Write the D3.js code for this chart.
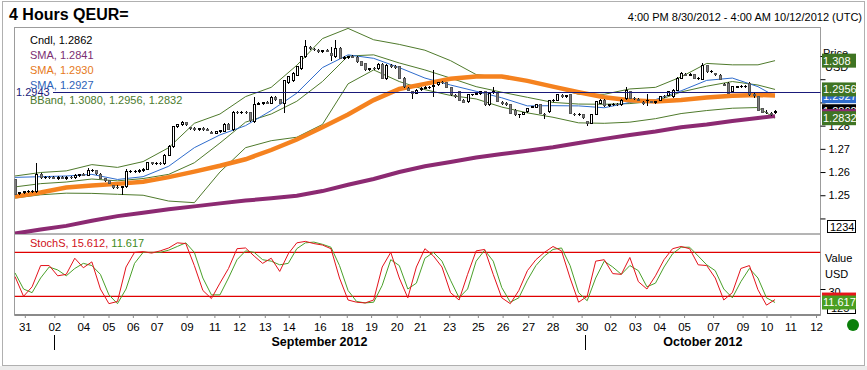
<!DOCTYPE html>
<html>
<head>
<meta charset="utf-8">
<script src="https://cdn.jsdelivr.net/npm/d3@7"></script>
<style>
  body { margin: 0; background: #fff; }
  svg { display: block; font-family: "Liberation Sans", Arial, sans-serif; }
</style>
</head>
<body>
<svg id="chart" width="867" height="370"></svg>
<script>
// 4-hour candles, 8/30 16:00 onwards (one entry per bar)
const opens = [
  1.2566,1.2508,1.2512,1.2514,1.2516,1.2515,1.2590,1.2575,1.2578,1.2576,
  1.2574,1.2576,1.2573,1.2577,1.2575,1.2586,1.2588,1.2587,1.2605,1.2607,
  1.2590,1.2572,1.2562,1.2540,1.2535,1.2533,1.2536,1.2601,1.2603,1.2604,
  1.2608,1.2612,1.2640,1.2637,1.2638,1.2635,1.2673,1.2709,1.2795,1.2803,
  1.2813,1.2790,1.2786,1.2784,1.2786,1.2783,1.2772,1.2768,1.2774,1.2776,
  1.2807,1.2782,1.2857,1.2856,1.2858,1.2855,1.2818,1.2892,1.2896,1.2898,
  1.2896,1.2922,1.2912,1.2896,1.2985,1.2995,1.3018,1.3047,1.3097,1.3136,
  1.3130,1.3124,1.3120,1.3124,1.3110,1.3097,1.3133,1.3090,1.3094,1.3097,
  1.3095,1.3075,1.3068,1.3042,1.3047,1.3045,1.3064,1.3004,1.3058,1.3054,
  1.3054,1.3004,1.2960,1.2945,1.2940,1.2955,1.2962,1.2964,1.2970,1.2978,
  1.2985,1.2985,1.2964,1.2930,1.2947,1.2910,1.2902,1.2932,1.2934,1.2938,
  1.2945,1.2889,1.2945,1.2940,1.2900,1.2896,1.2889,1.2867,1.2846,1.2850,
  1.2860,1.2880,1.2878,1.2889,1.2848,1.2860,1.2908,1.2910,1.2928,1.2925,
  1.2932,1.2848,1.2846,1.2850,1.2818,1.2810,1.2850,1.2895,1.2910,1.2887,
  1.2889,1.2890,1.2889,1.2917,1.2946,1.2917,1.2914,1.2900,1.2908,1.2902,
  1.2900,1.2910,1.2925,1.2930,1.2925,1.2953,1.3004,1.3020,1.3018,1.3020,
  1.3002,1.3000,1.3058,1.3032,1.3024,1.3018,1.2978,1.2982,1.2947,1.2966,
  1.2967,1.2968,1.2982,1.2932,1.2925,1.2874,1.2857,1.2852,1.2858
];
const highs = [
  1.2570,1.2516,1.2520,1.2522,1.2524,1.2640,1.2598,1.2584,1.2585,1.2584,
  1.2582,1.2583,1.2582,1.2585,1.2590,1.2592,1.2595,1.2618,1.2612,1.2610,
  1.2594,1.2575,1.2566,1.2546,1.2542,1.2540,1.2612,1.2608,1.2610,1.2612,
  1.2618,1.2645,1.2645,1.2644,1.2645,1.2678,1.2715,1.2800,1.2808,1.2818,
  1.2816,1.2795,1.2792,1.2790,1.2792,1.2788,1.2776,1.2778,1.2782,1.2812,
  1.2810,1.2862,1.2863,1.2862,1.2864,1.2858,1.2922,1.2900,1.2903,1.2905,
  1.2928,1.2926,1.2915,1.2998,1.3015,1.3030,1.3058,1.3100,1.3169,1.3142,
  1.3134,1.3130,1.3128,1.3130,1.3140,1.3169,1.3138,1.3098,1.3102,1.3104,
  1.3100,1.3078,1.3072,1.3050,1.3053,1.3068,1.3070,1.3066,1.3064,1.3060,
  1.3058,1.3008,1.2966,1.2950,1.2958,1.2968,1.2970,1.2972,1.3040,1.2990,
  1.2992,1.2990,1.2968,1.2935,1.2950,1.2914,1.2936,1.2938,1.2944,1.2950,
  1.2948,1.2944,1.2968,1.2944,1.2904,1.2900,1.2892,1.2870,1.2852,1.2860,
  1.2877,1.2886,1.2892,1.2892,1.2854,1.2912,1.2915,1.2935,1.2935,1.2932,
  1.2936,1.2854,1.2856,1.2852,1.2822,1.2850,1.2906,1.2914,1.2914,1.2894,
  1.2896,1.2896,1.2914,1.2967,1.2950,1.2922,1.2918,1.2905,1.2937,1.2908,
  1.2908,1.2928,1.2930,1.2950,1.2957,1.3008,1.3030,1.3026,1.3025,1.3024,
  1.3008,1.3072,1.3062,1.3038,1.3028,1.3021,1.2984,1.2986,1.2972,1.2972,
  1.2974,1.2975,1.2990,1.2946,1.2928,1.2877,1.2866,1.2858,1.2868
];
const lows = [
  1.2500,1.2502,1.2506,1.2508,1.2510,1.2510,1.2568,1.2568,1.2570,1.2568,
  1.2567,1.2568,1.2566,1.2570,1.2570,1.2580,1.2582,1.2584,1.2600,1.2588,
  1.2568,1.2558,1.2548,1.2528,1.2526,1.2503,1.2530,1.2594,1.2596,1.2598,
  1.2602,1.2608,1.2632,1.2630,1.2630,1.2630,1.2668,1.2705,1.2790,1.2798,
  1.2800,1.2780,1.2778,1.2778,1.2778,1.2776,1.2762,1.2764,1.2770,1.2772,
  1.2782,1.2778,1.2850,1.2850,1.2852,1.2815,1.2810,1.2888,1.2890,1.2892,
  1.2892,1.2908,1.2893,1.2855,1.2980,1.2990,1.3012,1.3040,1.3092,1.3124,
  1.3120,1.3115,1.3112,1.3116,1.3080,1.3092,1.3086,1.3084,1.3088,1.3090,
  1.3072,1.3058,1.3036,1.3036,1.3040,1.3040,1.3000,1.2998,1.3050,1.3046,
  1.3000,1.2964,1.2948,1.2915,1.2936,1.2950,1.2956,1.2958,1.2925,1.2972,
  1.2978,1.2960,1.2928,1.2920,1.2906,1.2896,1.2898,1.2926,1.2930,1.2934,
  1.2885,1.2884,1.2938,1.2900,1.2890,1.2886,1.2850,1.2842,1.2834,1.2844,
  1.2856,1.2876,1.2874,1.2850,1.2830,1.2856,1.2902,1.2906,1.2920,1.2918,
  1.2850,1.2840,1.2842,1.2830,1.2800,1.2806,1.2846,1.2892,1.2882,1.2882,
  1.2884,1.2884,1.2886,1.2912,1.2914,1.2910,1.2904,1.2890,1.2885,1.2896,
  1.2895,1.2906,1.2918,1.2926,1.2920,1.2950,1.3000,1.3012,1.3012,1.3000,
  1.2996,1.2995,1.3028,1.3026,1.3016,1.2996,1.2970,1.2935,1.2944,1.2960,
  1.2962,1.2962,1.2928,1.2917,1.2863,1.2853,1.2848,1.2842,1.2852
];
const closes = [
  1.2505,1.2512,1.2514,1.2516,1.2518,1.2590,1.2575,1.2578,1.2576,1.2574,
  1.2576,1.2573,1.2577,1.2575,1.2586,1.2588,1.2587,1.2605,1.2607,1.2592,
  1.2572,1.2562,1.2552,1.2535,1.2533,1.2536,1.2601,1.2603,1.2604,1.2608,
  1.2612,1.2640,1.2637,1.2638,1.2635,1.2673,1.2709,1.2795,1.2803,1.2813,
  1.2805,1.2786,1.2784,1.2786,1.2783,1.2780,1.2768,1.2774,1.2778,1.2807,
  1.2785,1.2857,1.2856,1.2858,1.2855,1.2820,1.2892,1.2896,1.2898,1.2896,
  1.2922,1.2912,1.2896,1.2993,1.3011,1.3025,1.3054,1.3097,1.3140,1.3133,
  1.3126,1.3120,1.3124,1.3119,1.3102,1.3133,1.3090,1.3092,1.3097,1.3095,
  1.3075,1.3061,1.3040,1.3047,1.3045,1.3064,1.3004,1.3061,1.3054,1.3052,
  1.3004,1.2968,1.2953,1.2940,1.2953,1.2962,1.2964,1.2966,1.2975,1.2985,
  1.2984,1.2964,1.2932,1.2925,1.2910,1.2900,1.2932,1.2934,1.2940,1.2947,
  1.2889,1.2940,1.2947,1.2903,1.2896,1.2892,1.2853,1.2846,1.2848,1.2857,
  1.2874,1.2882,1.2889,1.2853,1.2846,1.2910,1.2910,1.2932,1.2925,1.2928,
  1.2853,1.2846,1.2850,1.2834,1.2810,1.2846,1.2903,1.2910,1.2885,1.2889,
  1.2890,1.2889,1.2910,1.2953,1.2917,1.2916,1.2910,1.2896,1.2910,1.2900,
  1.2903,1.2925,1.2924,1.2946,1.2953,1.3004,1.3025,1.3018,1.3020,1.3004,
  1.3004,1.3061,1.3032,1.3033,1.3022,1.2999,1.2975,1.2939,1.2968,1.2967,
  1.2969,1.2970,1.2932,1.2930,1.2867,1.2857,1.2855,1.2850,1.2862
];

// overlay indicators read every 6 bars (last one at the final bar)
const indIdx = [0,6,12,18,24,30,36,42,48,54,60,66,72,78,84,90,96,102,108,114,120,126,132,138,144,150,156,162,168,174,178];
const smaPurple = [1.2335,1.2352,1.2368,1.2390,1.2410,1.2425,1.2440,1.2452,1.2465,1.2477,1.2487,1.2498,1.2518,1.2545,1.2570,1.2600,
  1.2625,1.2643,1.2663,1.2678,1.2692,1.2707,1.2725,1.2743,1.2760,1.2775,1.2793,1.2805,1.2820,1.2833,1.2841];
const smaOrange = [1.2494,1.2512,1.2533,1.2542,1.2549,1.2558,1.2578,1.2602,1.2627,1.2655,1.2695,1.2740,1.2793,1.2848,1.2910,1.2958,
  1.2980,1.3002,1.3012,1.3012,1.2993,1.2968,1.2944,1.2922,1.2909,1.2904,1.2910,1.2921,1.2929,1.2932,1.2930];
const smaBlue = [1.2577,1.2580,1.2583,1.2590,1.2568,1.2580,1.2625,1.2705,1.2760,1.2800,1.2865,1.2940,1.3050,1.3105,1.3090,1.3050,
  1.3005,1.2975,1.2948,1.2920,1.2885,1.2886,1.2885,1.2877,1.2900,1.2912,1.2950,1.2995,1.3005,1.2968,1.2927];
const bbUpper = [1.2583,1.2598,1.2605,1.2632,1.2620,1.2645,1.2705,1.2810,1.2850,1.2925,1.2965,1.3060,1.3175,1.3219,1.3170,1.3150,
  1.3125,1.3080,1.3020,1.3008,1.2990,1.2966,1.2935,1.2935,1.2958,1.2965,1.3010,1.3068,1.3062,1.3062,1.3080];
const bbMid = [1.2536,1.2550,1.2557,1.2570,1.2562,1.2572,1.2590,1.2640,1.2725,1.2815,1.2850,1.2905,1.2990,1.3100,1.3105,1.3070,
  1.3040,1.3005,1.2968,1.2944,1.2922,1.2900,1.2893,1.2892,1.2895,1.2905,1.2945,1.2970,1.2990,1.2975,1.2956];
const bbLower = [1.2488,1.2502,1.2509,1.2508,1.2504,1.2500,1.2475,1.2468,1.2600,1.2705,1.2735,1.2750,1.2805,1.2980,1.3040,1.2990,
  1.2955,1.2930,1.2915,1.2880,1.2855,1.2836,1.2812,1.2810,1.2815,1.2830,1.2852,1.2865,1.2875,1.2878,1.2832];

// slow stochastics, read every 2 bars
const stochK = [47,20,33,62,62,48,50,72,59,67,30,10,13,60,80,81,79,82,86,93,
  92,62,28,17,38,58,85,86,75,65,72,54,78,93,95,92,90,85,45,15,
  12,11,15,60,80,45,18,60,85,75,60,25,15,50,82,84,50,18,10,28,
  55,70,80,88,82,45,12,20,68,70,51,50,73,40,30,48,70,85,88,85,
  63,62,45,15,25,58,62,29,8,15.6];
const stochD = [52,30,25,45,60,56,48,58,65,62,50,22,10,30,65,80,80,80,83,88,
  93,80,45,22,22,45,70,82,80,70,68,63,65,85,93,94,91,87,62,28,
  13,11,12,35,70,62,30,38,72,80,68,42,18,30,68,83,68,32,12,18,
  42,62,75,84,86,62,25,14,45,68,60,50,62,55,33,38,60,78,87,87,
  75,63,55,30,18,40,58,45,18,11.6];

const tickIdx = [2.3,9.2,16,21.9,27.6,33.2,40.2,46.7,52.5,58.5,64.1,71.4,77.7,83.4,89.4,94.8,
  101.7,108.4,114.2,120.2,125.9,132.7,139.4,145.2,150.9,156.7,163.5,170.4,176,181.6,187.6];
const tickLabels = ['31','02','04','05','06','07','09','11','12','13','14','16','18','19','20','21',
  '23','25','26','27','28','30','02','03','04','05','07','09','10','11','12'];
const monthNames = ['September 2012', 'October 2012'];
const monthStart = [9.1, 133.5];
const monthEnd = [133.5, 188.7];

const legendItems = ['Cndl, 1.2862', 'SMA, 1.2841', 'SMA, 1.2930', 'SMA, 1.2927', 'BBand, 1.3080, 1.2956, 1.2832'];
const legendColors = ['#000', '#7b2f73', '#e6791c', '#2d62b8', '#4b7a2d'];
const priceTicks = [1.24, 1.25, 1.26, 1.27, 1.28, 1.29, 1.30, 1.31];
const priceTickText = ['', '1.25', '1.26', '1.27', '1.28', '', '', ''];
const refLine = 1.2943;

const C = {
  purple: '#8c2a72', orange: '#f5821f', blue: '#2f6ccc', band: '#4f7a2c',
  red: '#e3131b', green: '#4aa02a', frame: '#9c9c9c'
};
const FS = 11;

const svg = d3.select('#chart');
svg.append('rect').attr('width', 867).attr('height', 370).attr('fill', '#fff');
svg.append('rect').attr('x', 0).attr('y', 366).attr('width', 867).attr('height', 4).attr('fill', '#ececec');
svg.append('rect').attr('x', 2.5).attr('y', 1.5).attr('width', 862).attr('height', 364)
  .attr('fill', 'none').attr('stroke', '#b0b0b0');

const left = 14.5, right = 820.5, pTop = 27.5, pBot = 234, sBot = 315;
const x = d3.scaleLinear().domain([0, 189]).range([15, 822]);
const y = d3.scaleLinear().domain([1.2333, 1.3222]).range([234, 27.7]);
const ys = d3.scaleLinear().domain([0, 100]).range([311, 237.7]);

const defs = svg.append('defs');
defs.append('clipPath').attr('id', 'clipP').append('rect')
  .attr('x', left).attr('y', pTop).attr('width', right - left).attr('height', pBot - pTop);
defs.append('clipPath').attr('id', 'clipS').append('rect')
  .attr('x', left).attr('y', pBot).attr('width', right - left).attr('height', sBot - pBot);

// title + range
svg.append('text').attr('x', 9).attr('y', 20).attr('font-size', 16).attr('font-weight', 'bold')
  .text('4 Hours QEUR=');
svg.append('text').attr('x', 862).attr('y', 21).attr('font-size', FS).attr('text-anchor', 'end')
  .text('4:00 PM 8/30/2012 - 4:00 AM 10/12/2012 (UTC)');

// panel frames
svg.append('rect').attr('x', left).attr('y', pTop).attr('width', right - left).attr('height', pBot - pTop)
  .attr('fill', 'none').attr('stroke', C.frame);
svg.append('rect').attr('x', left).attr('y', pBot).attr('width', right - left).attr('height', sBot - pBot)
  .attr('fill', 'none').attr('stroke', C.frame);
svg.append('line').attr('x1', left).attr('x2', right).attr('y1', sBot).attr('y2', sBot)
  .attr('stroke', '#8a8a8a').attr('stroke-width', 2);

// ---- price panel ----
const gp = svg.append('g').attr('clip-path', 'url(#clipP)');
const line = arr => d3.line().x((d, k) => x(indIdx[k])).y(d => y(d))(arr);

[bbUpper, bbMid, bbLower].forEach(s => {
  gp.append('path').attr('d', line(s)).attr('fill', 'none').attr('stroke', C.band).attr('stroke-width', 1);
});
gp.append('path').attr('d', line(smaBlue)).attr('fill', 'none').attr('stroke', C.blue).attr('stroke-width', 1);
gp.append('path').attr('d', line(smaOrange)).attr('fill', 'none').attr('stroke', C.orange).attr('stroke-width', 4.5);
gp.append('path').attr('d', line(smaPurple)).attr('fill', 'none').attr('stroke', C.purple).attr('stroke-width', 4);

// candles
const bars = d3.range(closes.length);
const cg = gp.append('g').attr('shape-rendering', 'crispEdges');
cg.selectAll('line').data(bars).join('line')
  .attr('x1', i => Math.round(x(i)) + 0.5).attr('x2', i => Math.round(x(i)) + 0.5)
  .attr('y1', i => y(highs[i])).attr('y2', i => y(lows[i]))
  .attr('stroke', '#000');
cg.selectAll('rect').data(bars).join('rect')
  .attr('x', i => Math.round(x(i)) - 0.5)
  .attr('width', 2)
  .attr('y', i => Math.min(y(opens[i]), y(closes[i])))
  .attr('height', i => Math.max(0.01, Math.abs(y(opens[i]) - y(closes[i]))))
  .attr('fill', i => closes[i] >= opens[i] ? '#fff' : '#808080')
  .attr('stroke', i => closes[i] >= opens[i] ? '#000' : '#555');

// reference line
svg.append('line').attr('x1', 53).attr('x2', right).attr('y1', Math.round(y(refLine)) + 0.5).attr('y2', Math.round(y(refLine)) + 0.5)
  .attr('stroke', '#1a1a7a');
svg.append('text').attr('x', 16).attr('y', y(refLine) + 4).attr('font-size', FS).attr('fill', '#1a1a7a')
  .text(refLine.toFixed(4));

// legend
svg.append('g').selectAll('text').data(legendItems).join('text')
  .attr('x', 30).attr('y', (d, k) => 43.5 + k * 15)
  .attr('font-size', FS).attr('fill', (d, k) => legendColors[k]).text(d => d);

// right price axis
const ax = svg.append('g').attr('transform', `translate(${right},0)`)
  .call(d3.axisRight(y).tickValues(priceTicks).tickSize(5).tickPadding(3)
    .tickFormat((d, k) => priceTickText[k]));
ax.select('.domain').remove();
ax.selectAll('text').attr('font-size', FS).attr('font-family', null);
ax.selectAll('line').attr('stroke', '#000');

svg.append('text').attr('x', 823).attr('y', 57).attr('font-size', FS).text('Price');
svg.append('text').attr('x', 825).attr('y', 71).attr('font-size', FS).text('USD');

svg.append('rect').attr('x', 827.5).attr('y', 220.5).attr('width', 28).attr('height', 12)
  .attr('fill', '#fff').attr('stroke', '#000');
svg.append('text').attr('x', 830).attr('y', 231).attr('font-size', FS).text('1234');

function tag(val, fill, label, scale) {
  const cy = (scale || y)(val);
  svg.append('rect').attr('x', 822).attr('y', cy - 7).attr('width', 34).attr('height', 14).attr('fill', fill);
  svg.append('text').attr('x', 823).attr('y', cy + 4).attr('font-size', FS).attr('fill', '#fff').text(label);
}
tag(1.3080, '#3f7423', '1.308');
tag(1.2930, C.orange, '1.2930');
tag(1.2927, C.blue, '1.2927');
tag(1.2956, '#3f7423', '1.2956');
tag(1.2862, '#000', '1.2862');
tag(1.2841, C.purple, '1.2841');
tag(1.2832, '#3f7423', '1.2832');

// ---- stochastics panel ----
const gs = svg.append('g').attr('clip-path', 'url(#clipS)');
[80, 20].forEach(v => {
  gs.append('line').attr('x1', left).attr('x2', right).attr('y1', ys(v)).attr('y2', ys(v))
    .attr('stroke', '#e00000').attr('stroke-width', 1.2);
});
const sline = d3.line().x((d, k) => x(k * 2)).y(d => ys(d));
gs.append('path').attr('d', sline(stochD)).attr('fill', 'none').attr('stroke', C.green).attr('stroke-width', 1);
gs.append('path').attr('d', sline(stochK)).attr('fill', 'none').attr('stroke', C.red).attr('stroke-width', 1);

const st = svg.append('text').attr('x', 30).attr('y', 247).attr('font-size', FS);
st.append('tspan').attr('fill', '#d0101a').text('StochS, 15.612, ');
st.append('tspan').attr('fill', '#3f8a22').text('11.617');

svg.append('text').attr('x', 825).attr('y', 262).attr('font-size', FS).text('Value');
svg.append('text').attr('x', 825).attr('y', 278).attr('font-size', FS).text('USD');
const sax = svg.append('g').attr('transform', `translate(${right},0)`)
  .call(d3.axisRight(ys).tickValues([30]).tickSize(5).tickPadding(3));
sax.select('.domain').remove();
sax.selectAll('text').attr('font-size', FS).attr('font-family', null).attr('dy', '0.6em');
sax.selectAll('line').attr('stroke', '#000');
svg.append('rect').attr('x', 827.5).attr('y', 300.5).attr('width', 28).attr('height', 13)
  .attr('fill', '#fff').attr('stroke', '#000');
svg.append('text').attr('x', 831).attr('y', 312).attr('font-size', FS).text('125');
tag(15.612, '#e8151b', '15.612', ys);
tag(11.617, '#4a9f22', '11.617', ys);

// ---- time axis ----
const xa = svg.append('g').attr('transform', `translate(0,${sBot})`)
  .call(d3.axisBottom(x).tickValues(tickIdx).tickSize(3).tickPadding(5)
    .tickFormat((d, k) => tickLabels[k]));
xa.select('.domain').remove();
xa.selectAll('line').attr('stroke', '#8a8a8a');
xa.selectAll('text').attr('font-size', 11.5).attr('font-family', null).attr('fill', '#000');

svg.append('g').selectAll('line').data(monthStart).join('line')
  .attr('x1', d => Math.round(x(d)) + 0.5).attr('x2', d => Math.round(x(d)) + 0.5)
  .attr('y1', 335).attr('y2', 350).attr('stroke', '#000');
svg.append('g').selectAll('text').data(monthNames).join('text')
  .attr('x', (d, k) => x((monthStart[k] + monthEnd[k]) / 2)).attr('y', 345.5)
  .attr('text-anchor', 'middle').attr('font-size', 12.5).attr('font-weight', 'bold').text(d => d);

svg.append('circle').attr('cx', 853).attr('cy', 325).attr('r', 6).attr('fill', '#0a7f0a');
</script>
</body>
</html>
